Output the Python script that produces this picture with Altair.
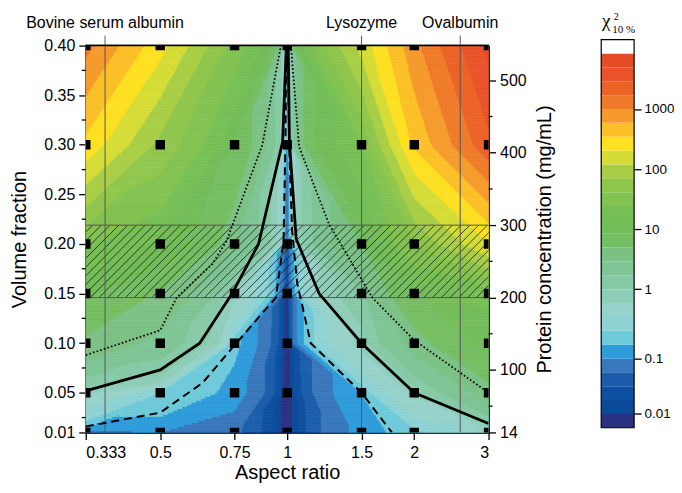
import numpy as np
import pandas as pd
import altair as alt

# ---------------- data ----------------
ASPECT = [0.333, 0.5, 0.75, 1.0, 1.5, 2.0, 3.0]
VOLFRAC = [0.01, 0.05, 0.10, 0.15, 0.20, 0.30, 0.40]
# chi^2 (10 %) at each grid node, rows follow VOLFRAC (bottom -> top), columns follow ASPECT
CHI2 = [
    [0.09, 0.10, 0.065, 0.002, 0.12, 0.20, 0.45],
    [0.65, 0.25, 0.13, 0.003, 0.16, 0.70, 3.5],
    [4.2, 2.4, 0.18, 0.004, 0.70, 3.5, 10.0],
    [9.0, 4.6, 0.70, 0.005, 1.5, 8.0, 18.0],
    [25.0, 12.0, 3.2, 0.03, 4.9, 40.0, 200.0],
    [300.0, 60.0, 7.5, 0.08, 23.0, 380.0, 2500.0],
    [1200.0, 250.0, 32.0, 0.10, 143.0, 850.0, 6000.0],
]
# contour level boundaries (log10 chi^2) and band colours of the colour bar
LEVELS_LOG = [-2.0, -1.75, -1.5, -1.25, -1.0, -0.8, -0.6, -0.4, -0.2, 0.0,
              0.231, 0.462, 0.692, 0.923, 1.154, 1.385, 1.615, 1.846, 2.077,
              2.308, 2.538, 2.769, 3.0, 3.231, 3.462, 3.692, 3.923]
BAND_COLORS = ["#2B3182", "#0B4A9A", "#0D4FA0", "#1B5DAA", "#3977BC", "#2E9CDA",
               "#6ECAD9", "#8FD2D4", "#96D2C9", "#8ECEB9", "#86C9A6", "#7EC494",
               "#7BC184", "#74BE62", "#72BD58", "#76BF55", "#82C250", "#8FC64C",
               "#A9CE45", "#D5DC35", "#FDE020", "#FBBF27", "#F59A2B", "#EF7A29",
               "#EC6226", "#E9532A", "#E84C26", "#FFFFFF"]
CB_TICKS = [0.01, 0.1, 1, 10, 100, 1000]
CB_TICK_LABELS = ["0.01", "0.1", "1", "10", "100", "1000"]

PROTEINS = ["Bovine serum albumin", "Lysozyme", "Ovalbumin"]
PROTEIN_AR = [0.37, 1.5, 2.57]

CONC_PER_VF = 1370.0
CONC_TICKS = [14, 100, 200, 300, 400, 500]
CONC_MINOR = [50, 150, 250, 350, 450]
VF_TICKS = [0.01, 0.05, 0.10, 0.15, 0.20, 0.25, 0.30, 0.35, 0.40]
VF_MINOR = [0.025, 0.075, 0.125, 0.175, 0.225, 0.275, 0.325, 0.375]
HATCH_CONC = [200, 300]

# contour lines (aspect ratio, volume fraction)
DASH_L_AR = [0.333, 0.5, 0.63, 0.74, 0.94, 0.98, 0.99, 0.995]
DASH_L_VF = [0.016, 0.030, 0.06, 0.095, 0.146, 0.203, 0.30, 0.40]
DASH_R_AR = [1.005, 1.01, 1.027, 1.056, 1.137, 1.5, 1.77]
DASH_R_VF = [0.40, 0.30, 0.213, 0.16, 0.10, 0.05, 0.01]
SOLID_L_AR = [0.333, 0.5, 0.62, 0.74, 0.855, 0.975, 0.995]
SOLID_L_VF = [0.052, 0.073, 0.10, 0.15, 0.20, 0.303, 0.40]
SOLID_R_AR = [1.005, 1.012, 1.05, 1.19, 1.5, 2.0, 3.0]
SOLID_R_VF = [0.40, 0.303, 0.205, 0.15, 0.10, 0.05, 0.019]
DOT_L_AR = [0.333, 0.5, 0.547, 0.665, 0.718, 0.873, 0.966]
DOT_L_VF = [0.088, 0.113, 0.146, 0.18, 0.203, 0.30, 0.40]
DOT_R_AR = [1.02, 1.067, 1.256, 1.59, 2.0, 3.0]
DOT_R_VF = [0.40, 0.298, 0.22, 0.146, 0.103, 0.05]

# ---------------- layout ----------------
W, H = 404, 388
FONT = "Liberation Sans"
XTITLE = "Aspect ratio"

# ---------------- contour field (triangulated interpolation of the grid) ----------------
U = np.log(np.array(ASPECT))
VY = np.array(VOLFRAC)
G = np.arcsinh(np.array(CHI2) / 30.0)
THR = 10 ** np.array(LEVELS_LOG)


def interp_g(u, v):
    j = int(np.clip(np.searchsorted(U, u) - 1, 0, len(U) - 2))
    i = int(np.clip(np.searchsorted(VY, v) - 1, 0, len(VY) - 2))
    s = (u - U[j]) / (U[j + 1] - U[j])
    t = (v - VY[i]) / (VY[i + 1] - VY[i])
    g00, g10, g01, g11 = G[i, j], G[i, j + 1], G[i + 1, j], G[i + 1, j + 1]
    if abs(g00 - g11) <= abs(g10 - g01):
        if s >= t:
            return g00 + s * (g10 - g00) + t * (g11 - g10)
        return g00 + t * (g01 - g00) + s * (g11 - g01)
    if s + t <= 1:
        return g00 + s * (g10 - g00) + t * (g01 - g00)
    return g11 + (1 - s) * (g01 - g11) + (1 - t) * (g10 - g11)


NU, NV = W, H // 2
ue = np.linspace(U[0], U[-1], NU + 1)
ve = np.linspace(VY[0], VY[-1], NV + 1)
uc = 0.5 * (ue[:-1] + ue[1:])
vc = 0.5 * (ve[:-1] + ve[1:])
records = []
for r in range(NV):
    levs = [int(np.searchsorted(THR, 30.0 * np.sinh(interp_g(u, vc[r])), side="right")) for u in uc]
    start = 0
    for k in range(1, NU + 1):
        if k == NU or levs[k] != levs[start]:
            records.append({"x0": round(float(np.exp(ue[start])), 5), "x1": round(float(np.exp(ue[k])), 5),
                            "y0": round(float(ve[r]), 5), "y1": round(float(ve[r + 1]), 5),
                            "lev": levs[start]})
            start = k
field_df = pd.DataFrame(records)

nodes_df = pd.DataFrame([{"ar": a, "vf": v} for v in VOLFRAC for a in ASPECT])


def line_df(ars, vfs, branch):
    return pd.DataFrame({"ar": ars, "vf": vfs, "branch": branch, "ord": list(range(len(ars)))})


dash_df = pd.concat([line_df(DASH_L_AR, DASH_L_VF, "L"), line_df(DASH_R_AR, DASH_R_VF, "R")])
solid_df = pd.concat([line_df(SOLID_L_AR, SOLID_L_VF, "L"), line_df(SOLID_R_AR, SOLID_R_VF, "R")])
dot_df = pd.concat([line_df(DOT_L_AR, DOT_L_VF, "L"), line_df(DOT_R_AR, DOT_R_VF, "R")])

prot_df = pd.DataFrame({"name": PROTEINS, "ar": PROTEIN_AR})
hatch_vf = [c / CONC_PER_VF for c in HATCH_CONC]
hatch_df = pd.DataFrame({"vf": hatch_vf})
vfminor_df = pd.DataFrame({"vf": VF_MINOR})
cminor_df = pd.DataFrame({"c": CONC_MINOR})

# ---------------- scales ----------------
xscale = alt.Scale(type="log", domain=[ASPECT[0], ASPECT[-1]], nice=False)


def yscale():
    return alt.Scale(domain=[VOLFRAC[0], VOLFRAC[-1]], nice=False, zero=False)


def xenc(field):
    return alt.X(field, scale=xscale, title=XTITLE)


cscale = alt.Scale(domain=list(range(len(BAND_COLORS))), range=BAND_COLORS)

axis_common = dict(labelFont=FONT, titleFont=FONT, labelFontSize=16, titleFontSize=20,
                   titleFontWeight="normal", labelColor="black", titleColor="black",
                   domainColor="black", tickColor="black", domainWidth=1.5, tickWidth=1.3,
                   tickSize=7, grid=False)

field = alt.Chart(field_df).mark_rect(strokeWidth=0.7).encode(
    x=alt.X("x0:Q", scale=xscale, title=XTITLE,
            axis=alt.Axis(values=ASPECT, format=".3~f", labelPadding=5, titlePadding=2, **axis_common)),
    x2="x1:Q",
    y=alt.Y("y0:Q", scale=yscale(), title="Volume fraction",
            axis=alt.Axis(values=VF_TICKS, format=".2f", labelPadding=4, titlePadding=14, **axis_common)),
    y2="y1:Q",
    color=alt.Color("lev:O", scale=cscale, legend=None),
    stroke=alt.Stroke("lev:O", scale=cscale, legend=None),
)

hatch_k = (hatch_vf[1] - hatch_vf[0]) / (VOLFRAC[-1] - VOLFRAC[0]) * H / W
ratio = ASPECT[-1] / ASPECT[0]
hatch = alt.Chart(alt.sequence(start=-0.25, stop=1.02, step=8.8 / W, as_="t")).transform_calculate(
    xa=f"{ASPECT[0]} * pow({ratio}, datum.t)",
    xb=f"{ASPECT[0]} * pow({ratio}, datum.t + {hatch_k})",
    ya=f"{hatch_vf[0]}",
    yb=f"{hatch_vf[1]}",
).mark_rule(clip=True, color="#1a1a1a", strokeWidth=0.8).encode(
    x=xenc("xa:Q"), x2="xb:Q",
    y=alt.Y("ya:Q", scale=yscale(), axis=None), y2="yb:Q",
)

hatch_border = alt.Chart(hatch_df).mark_rule(color="#555555", strokeWidth=1).encode(
    y=alt.Y("vf:Q", scale=yscale(), axis=None), x=alt.value(0), x2=alt.value(W))

prot_rules = alt.Chart(prot_df).mark_rule(color="#555555", strokeWidth=1).encode(
    x=xenc("ar:Q"), y=alt.value(-10), y2=alt.value(H))
prot_text = alt.Chart(prot_df).mark_text(font=FONT, fontSize=16, baseline="middle", color="black").encode(
    x=xenc("ar:Q"), y=alt.value(-23), text="name:N")


def contour(df, dash, width):
    kw = dict(color="black", strokeWidth=width, clip=True)
    if dash:
        kw["strokeDash"] = dash
    return alt.Chart(df).mark_line(**kw).encode(
        x=xenc("ar:Q"),
        y=alt.Y("vf:Q", scale=yscale(), axis=None),
        detail="branch:N", order="ord:Q")


dashed = contour(dash_df, [8, 5], 2.0)
solid = contour(solid_df, None, 2.8)
dotted = contour(dot_df, [1.6, 2.2], 1.8)

points = alt.Chart(nodes_df).mark_square(size=90, color="black", opacity=1, clip=True).encode(
    x=xenc("ar:Q"), y=alt.Y("vf:Q", scale=yscale(), axis=None))

vf_minor = alt.Chart(vfminor_df).mark_rule(color="black", strokeWidth=1.3).encode(
    y=alt.Y("vf:Q", scale=yscale(), axis=None), x=alt.value(-4), x2=alt.value(0))

top_frame = alt.Chart(hatch_df.head(1)).mark_rule(color="black", strokeWidth=1.5).encode(
    x=alt.value(0), x2=alt.value(W), y=alt.value(0))

# right axis: protein concentration
cdom = [VOLFRAC[0] * CONC_PER_VF, VOLFRAC[-1] * CONC_PER_VF]
right = alt.Chart(cminor_df).mark_rule(color="black", strokeWidth=1.3).encode(
    y=alt.Y("c:Q", scale=alt.Scale(domain=cdom, nice=False, zero=False),
            title="Protein concentration (mg/mL)",
            axis=alt.Axis(orient="right", values=CONC_TICKS, labelPadding=4, titlePadding=8,
                          titleAngle=270, titleBaseline="top", **axis_common)),
    x=alt.value(W), x2=alt.value(W + 4))

# colour bar
BAND_PX = 13.9
CB_BOTTOM = 392.7  # pixel of the lowest band edge, from plot top
cb_d0 = -(CB_BOTTOM - H) / BAND_PX
cb_dom = [cb_d0, cb_d0 + H / BAND_PX]
cb_df = pd.DataFrame({"lev": list(range(len(BAND_COLORS))),
                      "b0": list(range(len(BAND_COLORS))),
                      "b1": [k + 1 for k in range(len(BAND_COLORS))]})
cb_pos = np.interp(np.log10(CB_TICKS), LEVELS_LOG, np.arange(1, len(LEVELS_LOG) + 1))
label_expr = "''"
for p, lab in zip(cb_pos[::-1], CB_TICK_LABELS[::-1]):
    label_expr = f"abs(datum.value - {p:.4f}) < 0.01 ? '{lab}' : ({label_expr})"
CB_X0, CB_X1 = 517, 550


def cb_scale():
    return alt.Scale(domain=cb_dom, nice=False, zero=False)


cb_rect = alt.Chart(cb_df).mark_rect().encode(
    y=alt.Y("b0:Q", scale=cb_scale(), title=None,
            axis=alt.Axis(orient="right", offset=CB_X1 - W, values=[float(p) for p in cb_pos],
                          labelExpr=label_expr, domain=False, labelFont=FONT, labelFontSize=13.5,
                          labelColor="black", tickColor="black", tickWidth=1.3, tickSize=7,
                          labelPadding=3, grid=False)),
    y2="b1:Q", x=alt.value(CB_X0), x2=alt.value(CB_X1),
    color=alt.Color("lev:O", scale=cscale, legend=None))
cb_border = alt.Chart(cb_df.tail(1)).mark_rect(fill=None, stroke="black", strokeWidth=1.2).encode(
    y=alt.Y("b1:Q", scale=cb_scale(), axis=None),
    y2=alt.datum(0), x=alt.value(CB_X0), x2=alt.value(CB_X1))

SERIF = "Liberation Serif"
t_chi = alt.Chart(cb_df.head(1)).mark_text(font=SERIF, fontSize=19, baseline="alphabetic", align="center",
                                           color="black", text="χ").encode(
    x=alt.value(522), y=alt.value(-19))
t_sup = alt.Chart(cb_df.head(1)).mark_text(font=SERIF, fontSize=10, baseline="alphabetic", align="center",
                                           color="black", text="2").encode(
    x=alt.value(532), y=alt.value(-26))
t_sub = alt.Chart(cb_df.head(1)).mark_text(font=SERIF, fontSize=11, baseline="alphabetic", align="left",
                                           color="black", text="10 %").encode(
    x=alt.value(528), y=alt.value(-13))

chart = alt.layer(field, hatch, hatch_border, prot_rules, prot_text, dashed, solid, dotted,
                  points, vf_minor, top_frame, right, cb_rect, cb_border, t_chi, t_sup, t_sub
                  ).resolve_scale(y="independent").properties(
    width=W, height=H,
    autosize=alt.AutoSizeParams(type="none"),
    padding={"left": 78, "top": 37, "right": 186, "bottom": 52},
    background="white",
).configure_view(stroke="black", strokeWidth=1.5)

chart.save("out.html", embed_options={"renderer": "svg", "actions": False})
